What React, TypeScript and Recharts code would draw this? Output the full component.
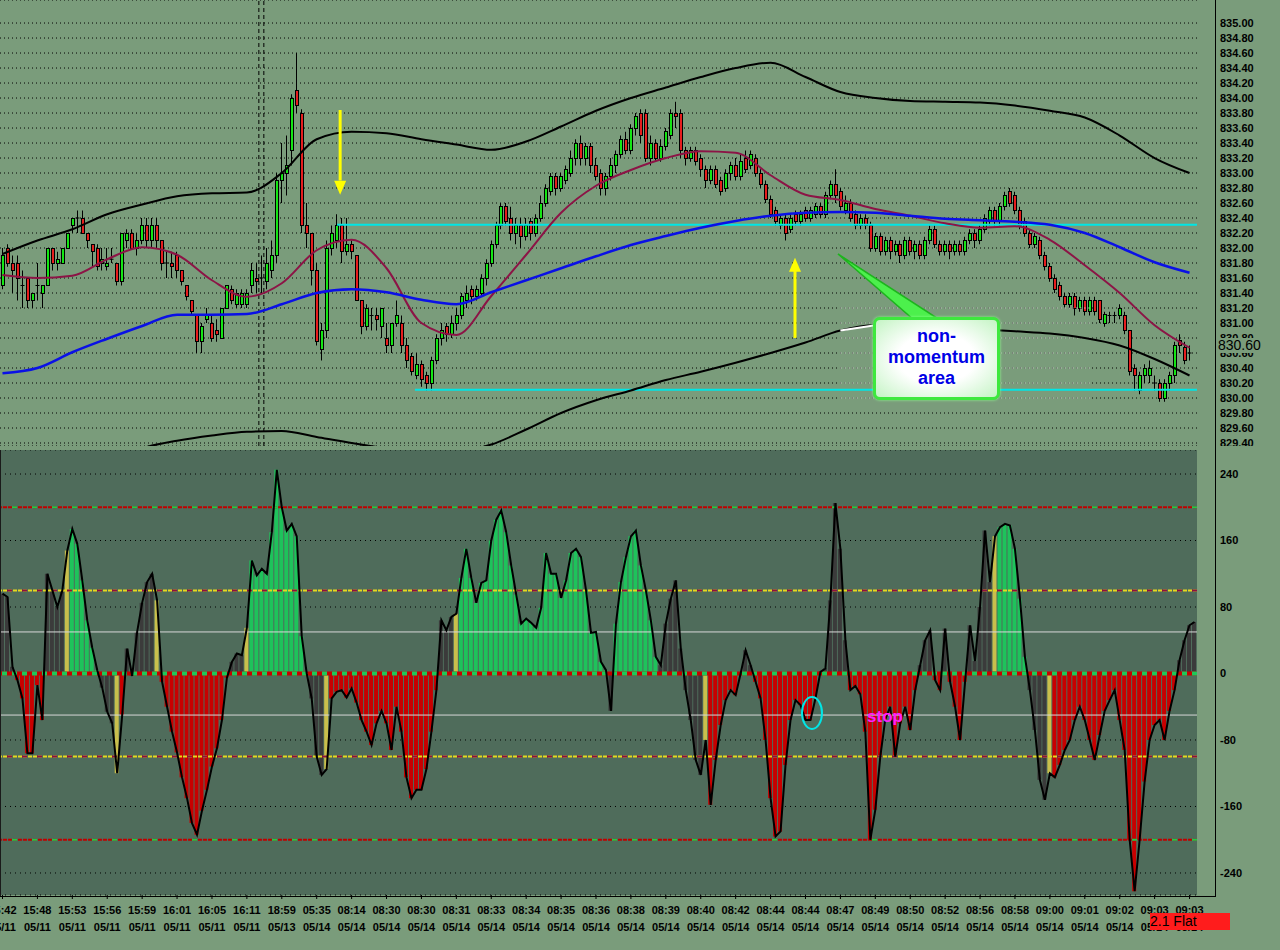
import React from "react";
import {
  Bar,
  CartesianGrid,
  Cell,
  ComposedChart,
  Line,
  ReferenceDot,
  ReferenceLine,
  XAxis,
  YAxis,
} from "recharts";

/* ---- axis labels ---- */
const timeLabels = [
  "15:42", "15:48", "15:53", "15:56", "15:59", "16:01", "16:05", "16:11", "18:59", "05:35",
  "08:14", "08:30", "08:30", "08:31", "08:33", "08:34", "08:35", "08:36", "08:38", "08:39",
  "08:40", "08:42", "08:44", "08:44", "08:47", "08:49", "08:50", "08:52", "08:56", "08:58",
  "09:00", "09:01", "09:02", "09:03", "09:03",
];
const dateLabels = [
  "05/11", "05/11", "05/11", "05/11", "05/11", "05/11", "05/11", "05/11", "05/13", "05/14",
  "05/14", "05/14", "05/14", "05/14", "05/14", "05/14", "05/14", "05/14", "05/14", "05/14",
  "05/14", "05/14", "05/14", "05/14", "05/14", "05/14", "05/14", "05/14", "05/14", "05/14",
  "05/14", "05/14", "05/14", "05/14", "05/14",
];
const BARS_PER_LABEL = 7;

const priceTicks = [
  835.0, 834.8, 834.6, 834.4, 834.2, 834.0, 833.8, 833.6, 833.4, 833.2,
  833.0, 832.8, 832.6, 832.4, 832.2, 832.0, 831.8, 831.6, 831.4, 831.2,
  831.0, 830.8, 830.6, 830.4, 830.2, 830.0, 829.8, 829.6, 829.4,
];
const oscTicks = [240, 160, 80, 0, -80, -160, -240];

/* ---- price bars ---- */
const opens = [
  831.5, 832.0, 831.8, 831.8, 831.5, 831.6, 831.3, 831.5, 831.4, 831.5,
  832.0, 831.8, 831.8, 832.0, 832.3, 832.4, 832.4, 832.2, 832.05, 832.0,
  831.8, 831.75, 831.85, 831.8, 831.55, 832.1, 832.2, 832.0, 832.1, 832.3,
  832.1, 832.3, 832.1, 831.8, 831.8, 831.9, 831.7, 831.5, 831.3, 831.1,
  830.75, 831.05, 831.0, 830.9, 830.8, 831.2, 831.45, 831.25, 831.25, 831.25,
  831.5, 831.6, 831.6, 831.55, 831.7, 831.9, 832.9, 833.0, 833.3, 834.1,
  833.8, 832.3, 832.2, 831.7, 830.65, 830.9, 832.0, 832.1, 832.3, 831.95,
  832.05, 831.9, 831.3, 830.95, 831.1, 831.1, 830.95, 830.8, 830.7, 831.0,
  831.0, 830.7, 830.55, 830.3, 830.45, 830.3, 830.2, 830.5, 830.8, 830.95,
  830.85, 831.0, 831.1, 831.3, 831.45, 831.35, 831.4, 831.6, 831.8, 832.05,
  832.3, 832.55, 832.4, 832.2, 832.3, 832.15, 832.35, 832.2, 832.4, 832.6,
  832.75, 832.95, 832.8, 832.9, 833.0, 833.2, 833.4, 833.2, 833.35, 833.1,
  833.0, 832.8, 832.95, 833.1, 833.25, 833.45, 833.3, 833.6, 833.8, 833.8,
  833.2, 833.4, 833.2, 833.35, 833.5, 833.8, 833.8, 833.3, 833.2, 833.3,
  833.2, 833.05, 832.9, 833.05, 832.9, 832.8, 833.0, 833.1, 832.95, 833.2,
  833.1, 833.2, 833.0, 832.85, 832.65, 832.5, 832.3, 832.4, 832.25, 832.45,
  832.35, 832.5, 832.4, 832.45, 832.55, 832.45, 832.7, 832.85, 832.75, 832.5,
  832.6, 832.45, 832.3, 832.4, 832.3, 832.0, 832.15, 831.95, 832.1, 831.95,
  832.05, 831.9, 832.1, 831.95, 832.05, 831.9, 832.1, 832.25, 832.05, 831.95,
  832.05, 831.95, 832.05, 831.95, 832.1, 832.2, 832.1, 832.25, 832.35, 832.5,
  832.35, 832.55, 832.75, 832.7, 832.5, 832.35, 832.2, 832.05, 832.1, 831.9,
  831.75, 831.6, 831.5, 831.35, 831.25, 831.35, 831.2, 831.3, 831.15, 831.3,
  831.3, 831.0, 831.1, 831.1, 831.1, 831.1, 830.9, 830.4, 830.1, 830.3,
  830.3, 830.2, 830.2, 830.0, 830.2, 830.3, 830.77, 830.67, 830.6,
];
const highs = [
  832.0, 832.05, 831.9, 831.9, 831.7, 831.6, 831.4, 831.8, 831.5, 832.0,
  832.0, 831.95, 832.0, 832.2, 832.4, 832.5, 832.5, 832.2, 832.05, 832.05,
  832.0, 832.0, 832.0, 831.8, 832.2, 832.25, 832.25, 832.2, 832.4, 832.4,
  832.4, 832.4, 832.1, 831.95, 831.95, 831.95, 831.7, 831.5, 831.3, 831.1,
  831.0, 831.2, 831.1, 831.05, 831.2, 831.5, 831.5, 831.45, 831.45, 831.45,
  831.8, 831.8, 831.9, 832.0, 832.1, 833.0, 833.4, 833.5, 834.05, 834.6,
  833.85, 832.6, 832.2, 831.8, 831.0, 832.1, 832.3, 832.45, 832.4, 832.4,
  832.1, 831.9, 831.3, 831.25, 831.2, 831.2, 831.2, 831.0, 831.0, 831.3,
  831.1, 830.8, 830.6, 830.6, 830.5, 830.35, 830.55, 830.85, 831.0, 831.0,
  831.1, 831.2, 831.4, 831.5, 831.5, 831.5, 831.65, 831.85, 832.1, 832.35,
  832.6, 832.6, 832.55, 832.4, 832.4, 832.4, 832.4, 832.45, 832.7, 832.85,
  833.0, 833.0, 833.0, 833.1, 833.3, 833.45, 833.5, 833.4, 833.4, 833.2,
  833.05, 833.0, 833.2, 833.3, 833.5, 833.55, 833.65, 833.8, 833.85, 833.85,
  833.5, 833.45, 833.45, 833.6, 833.85, 833.95, 833.85, 833.35, 833.35, 833.35,
  833.25, 833.1, 833.1, 833.1, 832.95, 833.05, 833.15, 833.2, 833.25, 833.3,
  833.3, 833.25, 833.05, 832.9, 832.7, 832.55, 832.45, 832.45, 832.45, 832.5,
  832.5, 832.55, 832.55, 832.6, 832.6, 832.75, 832.9, 833.05, 832.8, 832.7,
  832.65, 832.5, 832.45, 832.45, 832.35, 832.2, 832.2, 832.15, 832.15, 832.1,
  832.1, 832.15, 832.15, 832.1, 832.1, 832.15, 832.3, 832.3, 832.1, 832.1,
  832.1, 832.1, 832.1, 832.15, 832.25, 832.25, 832.3, 832.45, 832.55, 832.55,
  832.6, 832.75, 832.8, 832.75, 832.55, 832.4, 832.25, 832.2, 832.15, 831.95,
  831.8, 831.65, 831.55, 831.4, 831.4, 831.4, 831.35, 831.35, 831.35, 831.35,
  831.3, 831.15, 831.15, 831.15, 831.25, 831.15, 830.9, 830.45, 830.35, 830.45,
  830.5, 830.3, 830.25, 830.25, 830.35, 830.75, 830.85, 830.75, 830.7,
];
const lows = [
  831.45, 831.75, 831.4, 831.3, 831.2, 831.2, 831.2, 831.3, 831.2, 831.5,
  831.7, 831.7, 831.8, 832.0, 832.2, 832.2, 832.2, 832.0, 831.75, 831.7,
  831.7, 831.7, 831.8, 831.5, 831.5, 832.0, 832.0, 831.9, 832.05, 832.0,
  832.0, 832.0, 831.7, 831.6, 831.6, 831.6, 831.5, 831.3, 831.1, 830.6,
  830.6, 831.0, 830.75, 830.75, 830.8, 831.2, 831.25, 831.2, 831.2, 831.2,
  831.4, 831.4, 831.4, 831.45, 831.6, 831.8, 832.6, 832.7, 833.1, 833.8,
  832.2, 832.0, 831.5, 830.7, 830.5, 830.8, 831.9, 832.0, 831.8, 831.9,
  831.85, 831.3, 830.85, 830.9, 830.9, 830.9, 830.8, 830.6, 830.6, 830.95,
  830.6, 830.4, 830.3, 830.25, 830.15, 830.1, 830.1, 830.45, 830.7, 830.75,
  830.8, 830.9, 831.05, 831.2, 831.25, 831.3, 831.35, 831.5, 831.75, 832.0,
  832.25, 832.3, 832.1, 832.05, 832.0, 832.1, 832.1, 832.15, 832.35, 832.55,
  832.7, 832.7, 832.75, 832.85, 832.95, 833.1, 833.1, 833.1, 833.0, 832.9,
  832.7, 832.7, 832.9, 833.0, 833.2, 833.25, 833.25, 833.5, 833.4, 833.15,
  833.1, 833.15, 833.15, 833.3, 833.45, 833.6, 833.2, 833.1, 833.15, 833.1,
  832.95, 832.8, 832.85, 832.8, 832.7, 832.75, 832.9, 832.9, 832.9, 833.0,
  833.05, 832.95, 832.8, 832.6, 832.4, 832.3, 832.25, 832.1, 832.2, 832.3,
  832.3, 832.35, 832.35, 832.4, 832.4, 832.4, 832.65, 832.6, 832.5, 832.45,
  832.35, 832.25, 832.25, 832.25, 831.95, 831.95, 831.9, 831.9, 831.85, 831.9,
  831.8, 831.85, 831.9, 831.85, 831.85, 831.85, 832.05, 832.0, 831.9, 831.9,
  831.85, 831.9, 831.9, 831.9, 832.05, 832.0, 832.05, 832.2, 832.3, 832.3,
  832.3, 832.5, 832.55, 832.45, 832.25, 832.15, 832.0, 832.0, 831.85, 831.7,
  831.55, 831.4, 831.3, 831.2, 831.2, 831.1, 831.15, 831.1, 831.1, 831.1,
  831.0, 830.95, 831.0, 831.0, 831.05, 830.85, 830.3, 830.1, 830.05, 830.2,
  830.2, 830.1, 829.95, 829.95, 830.1, 830.2, 830.6, 830.45, 830.5,
];
const closes = [
  831.9, 831.8, 831.7, 831.6, 831.5, 831.3, 831.4, 831.5, 831.5, 832.0,
  831.8, 831.85, 832.0, 832.2, 832.4, 832.4, 832.2, 832.1, 831.95, 831.75,
  831.85, 831.8, 831.85, 831.55, 832.2, 832.2, 832.0, 832.1, 832.3, 832.1,
  832.3, 832.1, 831.8, 831.8, 831.75, 831.7, 831.55, 831.35, 831.15, 830.75,
  830.95, 831.1, 830.8, 830.85, 831.2, 831.5, 831.3, 831.4, 831.4, 831.4,
  831.7, 831.55, 831.6, 831.8, 831.9, 832.9, 833.0, 833.1, 834.0, 833.9,
  832.3, 832.2, 831.7, 830.75, 830.9, 832.0, 832.2, 832.3, 831.95, 832.05,
  831.95, 831.3, 830.95, 831.2, 831.1, 831.05, 831.2, 830.7, 831.0, 831.1,
  830.7, 830.5, 830.35, 830.45, 830.25, 830.2, 830.5, 830.8, 830.9, 830.85,
  831.0, 831.1, 831.35, 831.4, 831.35, 831.45, 831.6, 831.8, 832.05, 832.3,
  832.55, 832.35, 832.2, 832.3, 832.15, 832.3, 832.2, 832.4, 832.6, 832.8,
  832.95, 832.8, 832.95, 833.05, 833.2, 833.4, 833.2, 833.35, 833.1, 832.95,
  832.8, 832.95, 833.1, 833.25, 833.45, 833.3, 833.6, 833.75, 833.5, 833.2,
  833.4, 833.2, 833.35, 833.55, 833.8, 833.75, 833.3, 833.2, 833.3, 833.15,
  833.05, 832.9, 833.05, 832.85, 832.75, 833.0, 833.1, 832.95, 833.15, 833.05,
  833.25, 833.0, 832.85, 832.65, 832.45, 832.35, 832.4, 832.2, 832.4, 832.35,
  832.45, 832.4, 832.5, 832.55, 832.45, 832.7, 832.85, 832.7, 832.55, 832.6,
  832.4, 832.3, 832.4, 832.3, 832.0, 832.15, 831.95, 832.1, 831.95, 832.05,
  831.9, 832.1, 831.95, 832.05, 831.9, 832.1, 832.25, 832.05, 831.95, 832.05,
  831.95, 832.05, 831.95, 832.1, 832.2, 832.1, 832.25, 832.4, 832.5, 832.35,
  832.55, 832.7, 832.6, 832.5, 832.3, 832.2, 832.05, 832.15, 831.9, 831.75,
  831.6, 831.45, 831.35, 831.25, 831.35, 831.2, 831.3, 831.15, 831.3, 831.15,
  831.05, 831.12, 831.1, 831.1, 831.2, 830.9, 830.35, 830.3, 830.3, 830.4,
  830.4, 830.2, 830.0, 830.2, 830.3, 830.7, 830.7, 830.5, 830.6,
];

/* ---- overlays, read once per time label (every 7 bars) ---- */
const upperBand = [
  831.92, 832.1, 832.25, 832.45, 832.58, 832.69, 832.73, 832.74, 833.0, 833.45,
  833.55, 833.53, 833.45, 833.38, 833.31, 833.42, 833.62, 833.83, 834.0, 834.14,
  834.28, 834.4, 834.47, 834.28, 834.08, 834.0, 833.96, 833.95, 833.94, 833.9,
  833.83, 833.74, 833.5, 833.2, 833.0,
];
const lowerBand = [
  828.7, 828.85, 829.0, 829.15, 829.33, 829.43, 829.5, 829.55, 829.56, 829.48,
  829.4, 829.33, 829.3, 829.29, 829.38, 829.58, 829.8, 829.97, 830.1, 830.24,
  830.35, 830.47, 830.6, 830.74, 830.9, 830.97, 830.97, 830.95, 830.92, 830.89,
  830.86, 830.8, 830.7, 830.52, 830.3,
];
const fastAverage = [
  831.64, 831.6, 831.63, 831.85, 832.01, 831.91, 831.57, 831.35, 831.53, 831.97,
  832.11, 831.73, 831.0, 830.84, 831.36, 831.91, 832.47, 832.83, 833.04, 833.2,
  833.29, 833.27, 832.97, 832.71, 832.64, 832.52, 832.43, 832.33, 832.27, 832.29,
  832.11, 831.77, 831.4, 830.97, 830.67,
];
const slowAverage = [
  830.33, 830.4, 830.61, 830.79, 830.96, 831.11, 831.11, 831.12, 831.25, 831.4,
  831.45, 831.41, 831.31, 831.25, 831.41, 831.57, 831.73, 831.89, 832.04, 832.16,
  832.27, 832.36, 832.43, 832.47, 832.48, 832.47, 832.43, 832.39, 832.37, 832.35,
  832.31, 832.2, 832.01, 831.81, 831.67,
];

/* ---- momentum oscillator ---- */
const momentum = [
  96, 92, 8, -8, -30, -96, -96, -14, -56, 120,
  100, 80, 100, 148, 174, 156, 112, 64, 31, 4,
  -17, -46, -60, -120, -50, 30, -3, 50, 85, 110,
  120, 88, -10, -40, -70, -95, -125, -150, -180, -194,
  -165, -140, -112, -90, -56, -5, 14, 24, 22, 55,
  136, 118, 126, 120, 170, 245, 200, 172, 180, 165,
  45, 0, -30, -100, -122, -115, -30, -22, -20, -29,
  -18, -35, -56, -70, -86, -60, -45, -60, -92, -40,
  -70, -125, -150, -140, -140, -115, -70, -20, 64, 52,
  68, 72, 115, 150, 115, 85, 109, 112, 160, 185,
  196, 170, 130, 95, 60, 66, 61, 55, 79, 145,
  120, 120, 91, 112, 145, 150, 140, 100, 49, 50,
  14, 4, -45, 60, 110, 140, 165, 172, 130, 100,
  64, 20, 10, 60, 90, 112, 30, -20, -56, -104,
  -122, -80, -158, -104, -62, -32, -20, -26, 0, 28,
  10, -10, -30, -80, -150, -196, -190, -110, -56, -32,
  -38, -56, -56, -30, 2, 6, 88, 205, 150, 40,
  -20, -15, -25, -70, -200, -164, -100, -55, -40, -100,
  -60, -40, -68, -20, 10, 40, 52, -8, -20, 54,
  -10, -40, -80, -10, 58, 15, 80, 172, 110, 165,
  176, 180, 178, 150, 90, 20, -20, -68, -128, -152,
  -120, -125, -110, -92, -80, -56, -40, -56, -80, -104,
  -74, -45, -32, -20, -56, -92, -200, -262, -200, -130,
  -80, -62, -56, -80, -45, -20, 16, 40, 58, 62,
];
// g = trending up, r = trending down, d = unconfirmed, y = signal bar
const signal = (
  "dddrrrrrrd" + "dddygggggg" + "dddyrddddd" + "dyrrrrrrrr" +
  "rrrrrrdddy" + "gggggggggg" + "ggdddyrrrr" + "rrrrrrrrrr" +
  "rrrrrrrrdd" + "dygggggggg" + "gggggggggg" + "gggggggggg" +
  "ggdggggggg" + "ggdddddddd" + "dyrrrrrrdd" + "drrrrrrrrr" +
  "rrrrrddddd" + "rrrrrrrrrr" + "rrrrdddrrd" + "rrrrdddddy" +
  "ggggggdddd" + "yrrrrrrrrr" + "rrrrrrrrrr" + "rrrrrrdddd"
).split("");

const PAGE_BG = "#7a9c7b";
const PANEL_BG = "#4f6c5b";
const FONT = "'Liberation Sans', Arial, sans-serif";
const SIGNAL_FILL: Record<string, string> = {
  g: "#1ec35b",
  r: "#c80000",
  d: "#3b3b3b",
  y: "#c9bf4c",
};
const X_DOMAIN: [number, number] = [-0.5, 239.5];

const candles = opens.map((o, i) => ({
  i,
  o,
  h: highs[i],
  l: lows[i],
  c: closes[i],
  range: [lows[i], highs[i]],
}));
const overlayBars = upperBand.map((_, k) => k * BARS_PER_LABEL);
const toSeries = (vals: number[]) => vals.map((v, k) => ({ i: overlayBars[k], v }));
const oscData = momentum.map((v, i) => ({ i, v, s: signal[i] }));
const labelBars = timeLabels.map((_, k) => k * BARS_PER_LABEL);

function Candle(props: any) {
  const { x, y, width, height, payload } = props;
  if (!payload || x == null || y == null) return <g />;
  const top = Math.min(y, y + height);
  const span = Math.abs(height);
  const unit = span / (payload.h - payload.l || 1);
  const toY = (v: number) => top + (payload.h - v) * unit;
  const cx = Math.floor(x + width / 2) + 0.5;
  const bodyTop = toY(Math.max(payload.o, payload.c));
  const bodyBot = toY(Math.min(payload.o, payload.c));
  const flat = payload.o === payload.c;
  return (
    <g>
      <line x1={cx} x2={cx} y1={top} y2={top + span} stroke="#000" strokeWidth={1} />
      {flat ? (
        <line x1={cx - 2} x2={cx + 2} y1={bodyTop} y2={bodyTop} stroke="#000" strokeWidth={1} />
      ) : (
        <rect
          x={cx - 1.5}
          y={bodyTop}
          width={3}
          height={Math.max(1, bodyBot - bodyTop)}
          fill={payload.c > payload.o ? "#14e614" : "#e61e1e"}
          stroke="#000"
          strokeWidth={1}
          shapeRendering="crispEdges"
        />
      )}
    </g>
  );
}

function ArrowHead({ cx, cy, dir }: { cx?: number; cy?: number; dir: number }) {
  if (cx == null || cy == null) return <g />;
  // dir 1 = pointing down (tip at cy), -1 = pointing up
  const base = cy - dir * 14;
  return <polygon points={`${cx},${cy} ${cx - 6},${base} ${cx + 6},${base}`} fill="#ffff00" />;
}

function TimeTick({ x, y, payload }: any) {
  const k = Math.round(payload.value / BARS_PER_LABEL);
  return (
    <text x={x} y={y} textAnchor="middle" fontFamily={FONT} fontWeight="bold" fontSize={11} fill="#000">
      <tspan x={x} dy={13}>{timeLabels[k]}</tspan>
      <tspan x={x} dy={17}>{dateLabels[k]}</tspan>
    </text>
  );
}

const axisTick = { fontFamily: FONT, fontWeight: "bold", fontSize: 11, fill: "#000" } as const;

function PricePanel() {
  return (
    <ComposedChart width={1280} height={446} data={candles} margin={{ top: 0, right: 0, bottom: 0, left: 0 }}>
      <CartesianGrid vertical={false} stroke="#000" strokeDasharray="1 3" />
      <XAxis dataKey="i" type="number" domain={X_DOMAIN} allowDataOverflow hide />
      <YAxis
        orientation="right"
        width={83}
        domain={[829.36, 835.307]}
        allowDataOverflow
        ticks={priceTicks}
        interval={0}
        tickFormatter={(v: number) => v.toFixed(2)}
        tick={axisTick}
        tickLine={false}
        axisLine={false}
        tickSize={0}
        tickMargin={23}
      />
      {[830.0, 830.2, 830.4, 830.6, 830.8, 831.0, 831.2].map((lvl) => (
        <ReferenceLine
          key={lvl}
          segment={[{ x: 168, y: lvl }, { x: 218, y: lvl }]}
          stroke="#ffffff"
          strokeDasharray="1 3"
        />
      ))}
      <ReferenceLine x={51.4} stroke="#000" strokeDasharray="4 3" />
      <ReferenceLine x={52.4} stroke="#000" strokeDasharray="4 3" />
      <ReferenceLine segment={[{ x: 67.1, y: 832.31 }, { x: 239.5, y: 832.31 }]} stroke="#00e6e6" strokeWidth={2} />
      <ReferenceLine segment={[{ x: 82.7, y: 830.11 }, { x: 239.5, y: 830.11 }]} stroke="#00e6e6" strokeWidth={2} />
      <Line data={toSeries(upperBand)} dataKey="v" type="monotone" stroke="#000" strokeWidth={2} dot={false} activeDot={false} isAnimationActive={false} />
      <Line data={toSeries(lowerBand)} dataKey="v" type="monotone" stroke="#000" strokeWidth={2} dot={false} activeDot={false} isAnimationActive={false} />
      <Line data={toSeries(lowerBand).slice(24, 26)} dataKey="v" type="linear" stroke="#ffffff" strokeWidth={2} dot={false} activeDot={false} isAnimationActive={false} />
      <Line data={toSeries(fastAverage)} dataKey="v" type="monotone" stroke="#8c1446" strokeWidth={2} dot={false} activeDot={false} isAnimationActive={false} />
      <Line data={toSeries(slowAverage)} dataKey="v" type="monotone" stroke="#0a10e6" strokeWidth={2.5} dot={false} activeDot={false} isAnimationActive={false} />
      <Bar dataKey="range" barSize={5} shape={(p: any) => <Candle {...p} />} isAnimationActive={false} />
      <ReferenceLine segment={[{ x: 67.7, y: 833.84 }, { x: 67.7, y: 832.9 }]} stroke="#ffff00" strokeWidth={3} />
      <ReferenceDot x={67.7} y={832.71} r={0} shape={(p: any) => <ArrowHead cx={p.cx} cy={p.cy} dir={1} />} />
      <ReferenceLine segment={[{ x: 158.9, y: 830.8 }, { x: 158.9, y: 831.7 }]} stroke="#ffff00" strokeWidth={3} />
      <ReferenceDot x={158.9} y={831.87} r={0} shape={(p: any) => <ArrowHead cx={p.cx} cy={p.cy} dir={-1} />} />
    </ComposedChart>
  );
}

function OscillatorPanel() {
  return (
    <ComposedChart width={1280} height={500} data={oscData} margin={{ top: 0, right: 0, bottom: 0, left: 0 }}>
      <CartesianGrid vertical={false} stroke="#000" strokeDasharray="1 4" />
      <XAxis
        dataKey="i"
        type="number"
        domain={X_DOMAIN}
        allowDataOverflow
        ticks={labelBars}
        interval={0}
        height={55}
        axisLine={false}
        tickLine={{ stroke: "#000" }}
        tickSize={4}
        tick={<TimeTick />}
      />
      <YAxis
        orientation="right"
        width={83}
        domain={[-266.5, 268.9]}
        allowDataOverflow
        ticks={oscTicks}
        interval={0}
        tick={axisTick}
        tickLine={false}
        axisLine={false}
        tickSize={0}
        tickMargin={23}
      />
      <Bar dataKey="v" barSize={4} isAnimationActive={false}>
        {oscData.map((d) => (
          <Cell key={d.i} fill={SIGNAL_FILL[d.s] || SIGNAL_FILL.d} />
        ))}
      </Bar>
      <ReferenceLine y={50} stroke="#d8d8d8" strokeWidth={1} />
      <ReferenceLine y={-50} stroke="#d8d8d8" strokeWidth={1} />
      <ReferenceLine y={200} stroke="#c00000" strokeWidth={2} strokeDasharray="4 1" />
      <ReferenceLine y={200} stroke="#22c84a" strokeWidth={2} strokeDasharray="5 15" />
      <ReferenceLine y={-200} stroke="#c00000" strokeWidth={2} strokeDasharray="4 1" />
      <ReferenceLine y={-200} stroke="#22c84a" strokeWidth={2} strokeDasharray="5 15" />
      <ReferenceLine y={100} stroke="#e6d81e" strokeWidth={2} strokeDasharray="4 1" />
      <ReferenceLine y={100} stroke="#8c1040" strokeWidth={2} strokeDasharray="5 10" />
      <ReferenceLine y={-100} stroke="#e6d81e" strokeWidth={2} strokeDasharray="4 1" />
      <ReferenceLine y={-100} stroke="#8c1040" strokeWidth={2} strokeDasharray="5 10" />
      <ReferenceLine y={0} stroke="#c80000" strokeWidth={4} />
      <ReferenceLine y={0} stroke="#1ec85a" strokeWidth={4} strokeDasharray="5 5" />
      <Line dataKey="v" type="linear" stroke="#000" strokeWidth={2} dot={false} activeDot={false} isAnimationActive={false} />
    </ComposedChart>
  );
}

export default function App() {
  return (
    <div style={{ position: "absolute", left: 0, top: 0, width: 1280, height: 950, background: PAGE_BG, overflow: "hidden" }}>
      <div style={{ position: "absolute", left: 0, top: 450, width: 1197, height: 445, background: PANEL_BG }} />
      <div style={{ position: "absolute", left: 0, top: 0 }}>
        <PricePanel />
      </div>
      <div style={{ position: "absolute", left: 0, top: 450 }}>
        <OscillatorPanel />
      </div>
      {/* frame */}
      <div style={{ position: "absolute", left: 1215, top: 0, width: 1, height: 897, background: "#000" }} />
      <div style={{ position: "absolute", left: 0, top: 896, width: 1216, height: 1, background: "#000" }} />
      <div style={{ position: "absolute", left: 0, top: 450, width: 1, height: 446, background: "#1a1a1a" }} />
      {/* last price marker */}
      <div
        style={{
          position: "absolute", left: 1218, top: 338, width: 60, height: 15, background: PAGE_BG,
          fontFamily: FONT, fontSize: 14, lineHeight: "15px", color: "#000",
        }}
      >
        830.60
      </div>
      {/* annotations */}
      <svg width={1280} height={950} style={{ position: "absolute", left: 0, top: 0, pointerEvents: "none" }}>
        <polygon points="838,254 914,320 940,320" fill="#4cf04c" stroke="#1eb41e" strokeWidth={1.5} />
        <ellipse cx={812} cy={713} rx={10} ry={16} fill="none" stroke="#00e6e6" strokeWidth={2} />
        <text x={885} y={722} textAnchor="middle" fontFamily={FONT} fontWeight="bold" fontSize={17} fill="#ff1eff">
          stop
        </text>
      </svg>
      <div
        style={{
          position: "absolute", left: 873, top: 317, width: 127, height: 83, boxSizing: "border-box",
          border: "3px solid #3ee83e", borderRadius: 7,
          background: "radial-gradient(ellipse at center, #ffffff 45%, #c4f4c4 100%)",
          boxShadow: "0 0 3px #8cff8c",
          textAlign: "center", color: "#0000e6", fontFamily: FONT, fontWeight: "bold", fontSize: 18,
          lineHeight: "21px", paddingTop: 6,
        }}
      >
        non-
        <br />
        momentum
        <br />
        area
      </div>
      <div
        style={{
          position: "absolute", left: 1150, top: 913, width: 80, height: 17, background: "#ff1c1c",
          fontFamily: FONT, fontSize: 14, lineHeight: "17px", color: "#000",
        }}
      >
        2.1 Flat
      </div>
    </div>
  );
}
